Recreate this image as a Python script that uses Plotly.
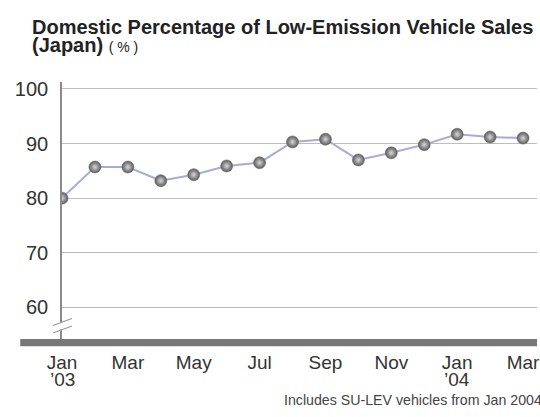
import plotly.graph_objects as go

# Monthly share of low-emission vehicles in domestic sales (%)
months = ["Jan '03", "Feb", "Mar", "Apr", "May", "Jun", "Jul", "Aug",
          "Sep", "Oct", "Nov", "Dec", "Jan '04", "Feb", "Mar"]
share = [80.0, 85.7, 85.7, 83.2, 84.3, 85.9, 86.5, 90.3,
         90.8, 87.0, 88.3, 89.8, 91.7, 91.2, 91.0]

tick_idx = [0, 2, 4, 6, 8, 10, 12, 14]
tick_text = ["Jan", "Mar", "May", "Jul", "Sep", "Nov", "Jan", "Mar"]
year_marks = {0: "\u201903", 12: "\u201904"}
y_ticks = [60, 70, 80, 90, 100]

x_idx = list(range(len(months)))

FONT = "Liberation Sans, Arial, sans-serif"
W, H = 540, 417
L, R, T, B = 62, 0, 82, 78
plot_w = W - L - R
ph = H - T - B
step = 33.14


def px(x_px):
    return (x_px - L) / plot_w


def py(y_px):
    return (H - B - y_px) / ph


fig = go.Figure()
fig.add_trace(go.Scatter(
    x=x_idx, y=share, mode="lines+markers",
    line=dict(color="#a7abd9", width=2),
    marker=dict(size=12, color="#5a5a5a",
                gradient=dict(type="radial", color="#d8d8d8"),
                line=dict(color="#6a6a6a", width=0.6)),
    hoverinfo="skip", showlegend=False,
))

fig.update_layout(
    width=W, height=H,
    margin=dict(l=L, r=R, t=T, b=B, pad=0),
    paper_bgcolor="white", plot_bgcolor="white",
    font=dict(family=FONT, color="#333333"),
    xaxis=dict(
        range=[0, plot_w / step], tickvals=tick_idx, ticktext=tick_text,
        ticks="", tickfont=dict(size=19, color="#333333"),
        showgrid=False, zeroline=False, showline=False,
        ticklabelstandoff=10, ticklabeloverflow="allow",
    ),
    yaxis=dict(
        range=[54.19, 101.28], tickvals=y_ticks,
        tickfont=dict(size=20, color="#333333"),
        showgrid=True, gridcolor="#bdbdbd", gridwidth=1.3,
        zeroline=False, showline=True, linecolor="#8a8a8a", linewidth=1.6,
        ticks="", ticklabelstandoff=8,
    ),
)

# title, two lines
fig.add_annotation(
    text="<b>Domestic Percentage of Low-Emission Vehicle Sales</b>",
    xref="paper", yref="paper", x=px(30), y=py(27),
    xanchor="left", yanchor="middle", showarrow=False,
    font=dict(family=FONT, size=20, color="#222222"),
)
fig.add_annotation(
    text="<b>(Japan)</b> <span style='font-size:14px'>( % )</span>",
    xref="paper", yref="paper", x=px(30), y=py(44.5),
    xanchor="left", yanchor="middle", showarrow=False,
    font=dict(family=FONT, size=20, color="#222222"),
)

# year under the January labels
for i, txt in year_marks.items():
    fig.add_annotation(
        text=txt, xref="x", yref="paper", x=i, y=py(380),
        xanchor="center", yanchor="middle", showarrow=False,
        font=dict(family=FONT, size=19, color="#333333"),
    )

# heavy baseline strip below the plot
fig.add_shape(type="rect", xref="paper", yref="paper",
              x0=px(20), x1=1.0, y0=py(346.3), y1=py(339),
              fillcolor="#777777", line=dict(width=0), layer="above")

# axis break marks
fig.add_shape(type="rect", xref="paper", yref="paper",
              x0=px(59), x1=px(66), y0=py(329.5), y1=py(322.5),
              fillcolor="white", line=dict(width=0), layer="above")
for yc in (322.0, 329.5):
    fig.add_shape(type="line", xref="paper", yref="paper",
                  x0=px(53), y0=py(yc + 3.5), x1=px(72), y1=py(yc - 3.5),
                  line=dict(color="#999999", width=1.2), layer="above")

fig.add_annotation(
    text="Includes SU-LEV vehicles from Jan 2004",
    xref="paper", yref="paper", x=px(283), y=py(400),
    xanchor="left", yanchor="middle", showarrow=False,
    font=dict(family=FONT, size=14.2, color="#444444"),
)

fig.write_html("out.html")
